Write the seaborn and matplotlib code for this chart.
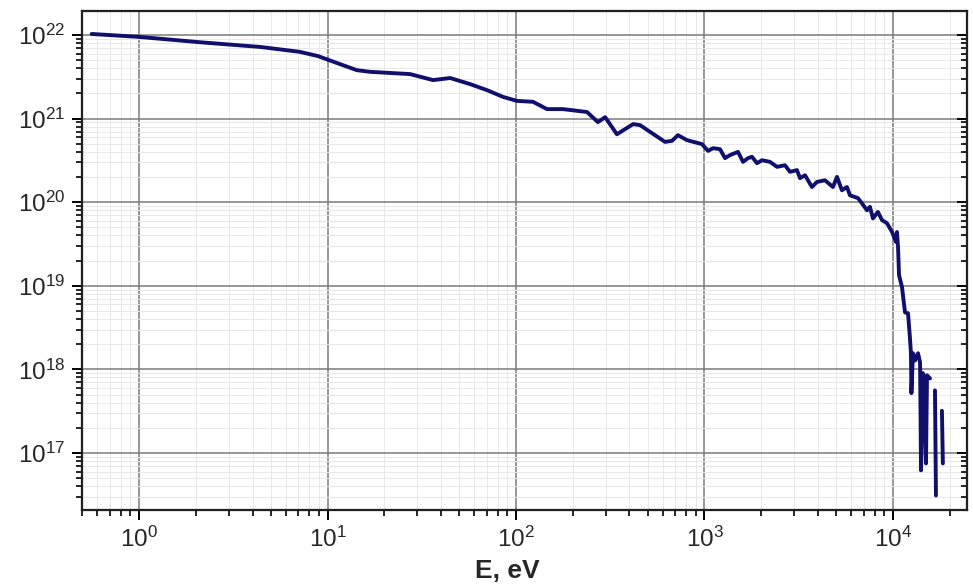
import numpy as np
import pandas as pd
import matplotlib
matplotlib.use("Agg")
import matplotlib.pyplot as plt
import seaborn as sns
from matplotlib.ticker import LogLocator, LogFormatterMathtext, NullFormatter

# ---- data ----
energy_main = [0.56, 1.0, 2.1, 4.4, 7.1, 8.9, 11.6, 14.3, 16.8, 27.4, 36.3, 44.7, 57, 70.2,
               85.3, 101, 123, 146, 177, 238, 272, 297, 343, 418, 455, 514, 617, 672, 723,
               807, 970, 1045, 1110, 1209, 1285, 1366, 1506, 1601, 1702, 1787, 1900, 2020,
               2225, 2425, 2673, 2842, 3096, 3212, 3415, 3718, 3953, 4357, 4804, 5047, 5360,
               5700, 5916, 6522, 6850, 7280, 7550, 7830, 8320, 8750, 9300, 9890, 10380,
               10500, 10640, 10770, 11170, 11590, 12020, 12300, 12460, 12530, 12770, 13110,
               13580, 13930, 14090, 14430, 14610, 14970, 15160, 15730]
flux_main = [1.03e22, 9.5e21, 8.2e21, 7.2e21, 6.3e21, 5.6e21, 4.5e21, 3.8e21, 3.63e21,
             3.41e21, 2.89e21, 3.06e21, 2.59e21, 2.19e21, 1.82e21, 1.63e21, 1.59e21,
             1.30e21, 1.30e21, 1.20e21, 9.08e20, 1.04e21, 6.5e20, 8.6e20, 8.36e20, 6.95e20,
             5.27e20, 5.42e20, 6.34e20, 5.53e20, 4.95e20, 4.11e20, 4.43e20, 4.31e20,
             3.37e20, 3.66e20, 4.0e20, 3.04e20, 3.37e20, 3.49e20, 2.93e20, 3.18e20, 3.04e20,
             2.65e20, 2.77e20, 2.31e20, 2.42e20, 1.94e20, 2.10e20, 1.52e20, 1.75e20,
             1.83e20, 1.52e20, 2.01e20, 1.39e20, 1.52e20, 1.21e20, 1.12e20, 9.7e19, 8.0e19,
             8.8e19, 6.4e19, 7.66e19, 6.1e19, 5.6e19, 4.4e19, 3.35e19, 4.4e19, 2.92e19,
             1.34e19, 9.6e18, 4.8e18, 4.7e18, 2.42e18, 1.56e18, 5.2e17, 1.56e18, 1.28e18,
             1.56e18, 1.21e18, 6.2e16, 9.0e17, 7.8e17, 7.5e16, 8.5e17, 7.8e17]
energy_tail1 = [16710, 16910]
flux_tail1 = [5.6e17, 3.1e16]
energy_tail2 = [18190, 18400]
flux_tail2 = [3.2e17, 7.5e16]

x_label = "E, eV"

df = pd.DataFrame({
    "E": energy_main + energy_tail1 + energy_tail2,
    "N": flux_main + flux_tail1 + flux_tail2,
    "seg": [0] * len(energy_main) + [1] * len(energy_tail1) + [2] * len(energy_tail2),
})

sns.set_theme(style="white")
plt.rcParams["font.family"] = ["Liberation Sans", "DejaVu Sans"]
plt.rcParams["mathtext.fontset"] = "custom"
plt.rcParams["mathtext.rm"] = "Liberation Sans"
plt.rcParams["mathtext.it"] = "Liberation Sans:italic"
plt.rcParams["mathtext.bf"] = "Liberation Sans:bold"

fig = plt.figure(figsize=(9.73, 5.87), dpi=100)
ax = fig.add_axes([0.0843, 0.1312, 0.9095, 0.8501])

sns.lineplot(data=df, x="E", y="N", units="seg", estimator=None, sort=False,
             color="#10106c", linewidth=2.8, ax=ax, legend=False)

ax.set_xscale("log")
ax.set_yscale("log")
ax.set_xlim(0.498, 24700)
ax.set_ylim(2.08e16, 1.94e22)

for a in (ax.xaxis, ax.yaxis):
    a.set_major_locator(LogLocator(base=10, numticks=20))
    a.set_minor_locator(LogLocator(base=10, subs=np.arange(2, 10), numticks=200))
    a.set_major_formatter(LogFormatterMathtext())
    a.set_minor_formatter(NullFormatter())

ax.grid(which="major", color="#7a7a7a", linewidth=1.1)
ax.grid(which="minor", color="#e8e8e8", linewidth=0.7)
ax.set_axisbelow(True)

for s in ax.spines.values():
    s.set_visible(True)
    s.set_color("black")
    s.set_linewidth(1.6)

ax.tick_params(which="major", direction="out", length=7, width=1.4, color="black",
               labelsize=17.5, pad=5, left=True, bottom=True, top=False, right=False)
ax.tick_params(which="minor", direction="out", length=4.5, width=1.2, color="black",
               left=True, bottom=True, top=False, right=False)

# right-side inward ticks
ax2 = ax.twinx()
ax2.set_yscale("log")
ax2.set_ylim(ax.get_ylim())
ax2.yaxis.set_major_locator(LogLocator(base=10, numticks=20))
ax2.yaxis.set_minor_locator(LogLocator(base=10, subs=np.arange(2, 10), numticks=200))
ax2.yaxis.set_minor_formatter(NullFormatter())
ax2.tick_params(which="major", direction="in", length=7, width=1.4, color="black",
                labelright=False)
ax2.tick_params(which="minor", direction="in", length=4, width=1.2, color="black",
                labelright=False)
ax2.grid(False)
ax2.set_ylabel("")

ax.set_ylabel("")
ax.set_xlabel(x_label, fontsize=19, fontweight="bold", labelpad=0)
ax.xaxis.set_label_coords(0.481, -0.098)
ax.xaxis.label.set_verticalalignment("top")

fig.savefig("out.png", dpi=100)
